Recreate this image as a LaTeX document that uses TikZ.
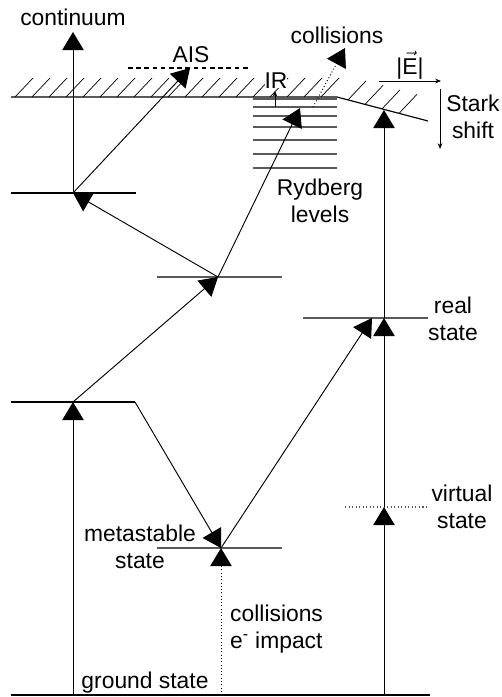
\documentclass[tikz,border=0pt]{standalone}
\usepackage{fontspec}
\setmainfont{Liberation Sans}
\usetikzlibrary{arrows.meta,positioning}

\tikzset{
  lvl/.style={line width=1pt, black!65},
  trans/.style={line width=0.8pt, -{Triangle[length=0.54cm,width=0.64cm]}},
  small/.style={line width=0.7pt, -{Stealth[length=5pt,width=4pt]}},
  lbl/.style={font=\fontsize{19.5}{23}\selectfont, align=center, inner sep=0pt},
}

\begin{document}
\begin{tikzpicture}[x=0.03cm,y=-0.03cm]
\useasboundingbox (0,0) rectangle (502,697);

% level points
\coordinate (gL) at (73,695);
\coordinate (gM) at (221,695);
\coordinate (gR) at (384,695);
\coordinate (e1) at (73,402);
\coordinate (e1r) at (135,402);
\coordinate (meta) at (221,548);
\coordinate (e2) at (218,277);
\coordinate (e3) at (73,193);
\coordinate (cont) at (73,32);
\coordinate (ais) at (190,68);
\coordinate (ryd) at (300,108);
\coordinate (virt) at (384,507);
\coordinate (real) at (384,318);
\coordinate (realin) at (372,318);
\coordinate (stark) at (384,110);

% ground state
\draw[line width=2pt] (11,695) -- (430,695);

% levels
\draw[line width=1pt] (11,402) -- (e1r);
\draw[line width=1pt] (11,193) -- (136,193);
\draw[lvl] (157,277) -- (282,277);
\draw[lvl] (157,548) -- (282,548);
\draw[lvl] (303,318) -- (428,318);
\draw[lvl, dotted] (345,507) -- (427,507);

% continuum with hatching
\draw[line width=1pt] (11,97) -- (337,97) -- (428,121);
\foreach \x in {15,32,...,330}
  \draw[line width=0.6pt] (\x,97) -- ++(18,-19);
\foreach \x in {348,365,...,415}
  \draw[line width=0.6pt] (\x,{97+(\x-337)*24/91}) -- ++(18,-19);

% Rydberg levels
\foreach \y in {99,107,116,127,140,154,168}
  \draw[lvl] (253,\y) -- (337,\y);

% AIS level
\draw[line width=1pt, dash pattern=on 4pt off 3pt] (128,68) -- (248,68);

% small arrows
\draw[small] (275,107) -- (275,91);
\draw[small] (379,81) -- (441,81);
\draw[small] (440,89) -- (440,149);

% transitions
\draw[trans] (gL) -- (e1);
\draw[trans] (e1r) -- (meta);
\draw[trans] (e1) -- (e2);
\draw[trans] (e2) -- (e3);
\draw[trans] (e3) -- (cont);
\draw[trans] (e3) -- (ais);
\draw[trans] (e2) -- (ryd);
\draw[trans] (meta) -- (realin);
\draw[trans] (gR) -- (virt);
\draw[trans] (virt) -- (real);
\draw[trans] (real) -- (stark);
\draw[trans, dotted] (gM) -- (meta);
\draw[trans, dotted] (313,107) -- (345,48);

% labels
\node[lbl, anchor=base] (tcont) at (73,25) {continuum};
\node[lbl, anchor=base] (tais) at (191,62) {AIS};
\node[lbl, anchor=base] (tcoll) at (337,43) {collisions};
\node[lbl, anchor=base, fill=white] (tir) at (276,88) {IR};
\node[lbl, anchor=base] (tfield) at (410,74) {|$\vec{\mbox{E}}$|};
\node[lbl, anchor=base] (tstark) at (473,138) {Stark\\shift};
\node[lbl, anchor=base] (tryd) at (320,222) {Rydberg\\levels};
\node[lbl, anchor=base] (treal) at (453,340) {real\\state};
\node[lbl, anchor=base] (tvirt) at (462,528) {virtual\\state};
\node[lbl, anchor=base] (tmeta) at (140,568) {metastable\\state};
\node[lbl, anchor=base west, align=left] (timp) at (230,648) {collisions\\e\textsuperscript{-} impact};
\node[lbl, anchor=base] (tground) at (145,688) {ground state};
\end{tikzpicture}
\end{document}
